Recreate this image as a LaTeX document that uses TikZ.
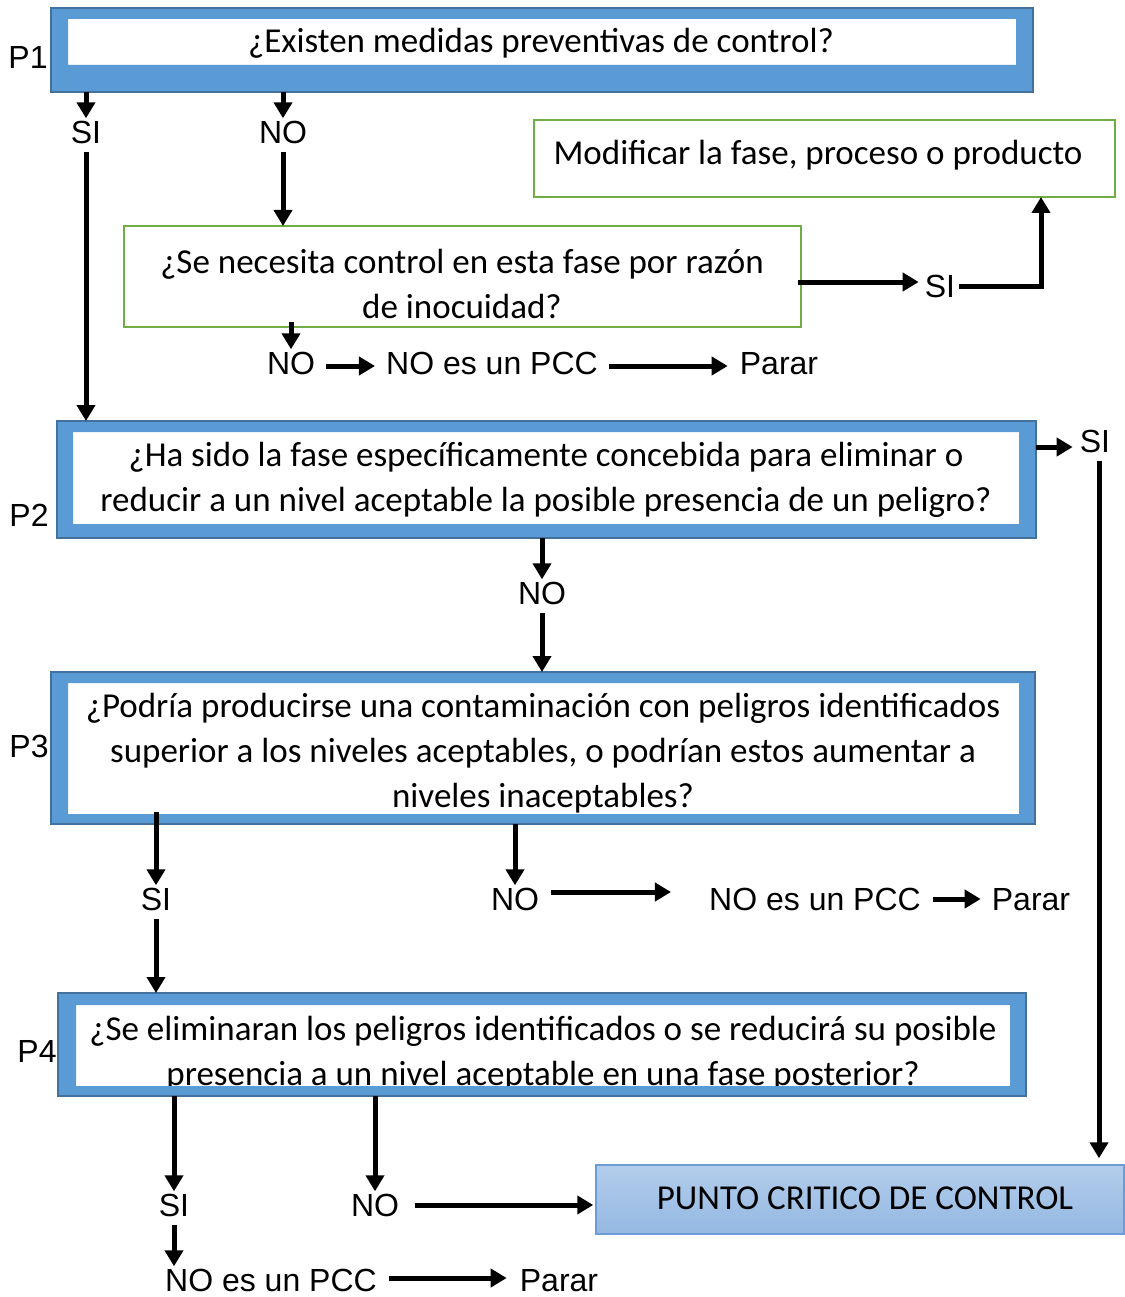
\documentclass[tikz,border=0pt]{standalone}
\usepackage{fontspec}
\setmainfont{Carlito}
\newfontfamily\arialfont{Liberation Sans}
\usetikzlibrary{arrows.meta}
\definecolor{qblue}{HTML}{5B9BD5}
\definecolor{qblueline}{HTML}{41719C}
\definecolor{qgreen}{HTML}{70AD47}
\definecolor{pcctop}{HTML}{B3CDEB}
\definecolor{pccbot}{HTML}{94B8E2}
\definecolor{pccline}{HTML}{6C9BD6}

\begin{document}
\begin{tikzpicture}[x=1pt,y=-1pt,
  arr/.style={line width=5pt,-{Triangle[length=16pt,width=18pt]}},
  lbl/.style={font=\arialfont\fontsize{32}{32}\selectfont, inner sep=2pt,
              text height=23pt, text depth=0pt},
  qtext/.style={font=\fontsize{35}{45}\selectfont, align=center, inner sep=0pt},
  qouter/.style={inner sep=0pt, outer sep=0pt},
  qframe/.style={fill=qblue, even odd rule},
  qborder/.style={draw=qblueline, line width=2pt},
  gbox/.style={draw=qgreen, line width=2.5pt, inner sep=0pt, outer sep=0pt},
]
\useasboundingbox (0,0) rectangle (1124,1297);

% ---------- P1 ----------
\node[qouter, minimum width=982pt, minimum height=84pt] (p1) at (542,50) {};
\fill[white] (68,19) rectangle (1016,65);
\node[qtext] (p1t) at (541,43) {¿Existen medidas preventivas de control?};
\fill[qframe] (p1.north west) rectangle (p1.south east) (68,19) rectangle (1016,65);
\draw[qborder] (p1.north west) rectangle (p1.south east);
\node[lbl] (p1l) at (28,57) {P1};

% ---------- green question and modification box ----------
\node[gbox, minimum width=677pt, minimum height=101pt] (g1) at (462.5,276.5) {};
\node[qtext] (g1t) at (462,284) {¿Se necesita control en esta fase por razón\\de inocuidad?};
\node[gbox, minimum width=581pt, minimum height=77pt] (mod) at (824.5,158.5) {};
\node[qtext] (modt) at (818,155) {Modificar la fase, proceso o producto};

% ---------- P2 ----------
\node[qouter, minimum width=979pt, minimum height=117pt] (p2) at (546.5,479.5) {};
\fill[white] (73,432) rectangle (1019,524);
\node[qtext] (p2t) at (546,480) {¿Ha sido la fase específicamente concebida para eliminar o\\reducir a un nivel aceptable la posible presencia de un peligro?};
\fill[qframe] (p2.north west) rectangle (p2.south east) (73,432) rectangle (1019,524);
\draw[qborder] (p2.north west) rectangle (p2.south east);
\node[lbl] (p2l) at (29,515) {P2};

% ---------- P3 ----------
\node[qouter, minimum width=984pt, minimum height=152pt] (p3) at (543,748) {};
\fill[white] (68,683) rectangle (1019,814);
\node[qtext] (p3t) at (543,753) {¿Podría producirse una contaminación con peligros identificados\\superior a los niveles aceptables, o podrían estos aumentar a\\niveles inaceptables?};
\fill[qframe] (p3.north west) rectangle (p3.south east) (68,683) rectangle (1019,814);
\draw[qborder] (p3.north west) rectangle (p3.south east);
\node[lbl] (p3l) at (29,746) {P3};

% ---------- P4 (second line runs into the frame) ----------
\node[qouter, minimum width=968pt, minimum height=103pt] (p4) at (542,1044.5) {};
\fill[white] (76,1005) rectangle (1010,1086);
\node[qtext] (p4t) at (543,1054) {¿Se eliminaran los peligros identificados o se reducirá su posible\\presencia a un nivel aceptable en una fase posterior?};
\fill[qframe] (p4.north west) rectangle (p4.south east) (76,1005) rectangle (1010,1086);
\draw[qborder] (p4.north west) rectangle (p4.south east);
\node[lbl] (p4l) at (37,1051) {P4};

% ---------- critical control point ----------
\node[draw=pccline, line width=1.5pt, top color=pcctop, bottom color=pccbot,
      minimum width=528pt, minimum height=69pt, inner sep=0pt] (pcc) at (860,1199.5) {};
\node[font=\fontsize{35}{35}\selectfont, inner sep=0pt] (pcct) at (865,1198) {PUNTO CRITICO DE CONTROL};

% ---------- answer labels ----------
\node[lbl] (si1) at (86,132) {SI};
\node[lbl] (no1) at (283,132) {NO};
\node[lbl] (si2) at (940,286) {SI};
\coordinate (modin) at (1041,197);
\node[lbl] (no2) at (291,363) {NO};
\node[lbl] (npcc1) at (492,363) {NO es un PCC};
\node[lbl] (stop1) at (779,363) {Parar};
\node[lbl] (si3) at (1095,441) {SI};
\node[lbl] (no3) at (542,593) {NO};
\node[lbl] (si4) at (156,899) {SI};
\node[lbl] (no4) at (515,899) {NO};
\node[lbl] (npcc2) at (815,899) {NO es un PCC};
\node[lbl] (stop2) at (1031,899) {Parar};
\node[lbl] (si5) at (174,1205) {SI};
\node[lbl] (no5) at (375,1205) {NO};
\node[lbl] (npcc3) at (271,1280) {NO es un PCC};
\node[lbl] (stop3) at (559,1280) {Parar};

% ---------- connectors ----------
\draw[arr] (p1.south -| si1) -- (si1.north);
\draw[arr] (p1.south -| no1) -- (no1.north);
\draw[arr, shorten <=6pt] (si1.south) -- (p2.north -| si1);
\draw[arr, shorten <=6pt] (no1.south) -- (g1.north -| no1);
\draw[arr, shorten <=-3pt, shorten >=4pt] ([yshift=4pt]si2.west -| g1.east) -- ([yshift=4pt]si2.west);
\draw[arr, shorten <=2pt] (si2.east) -| (modin);
\draw[arr] ([yshift=5pt]g1.south -| no2) -- (no2.north);
\draw[arr, shorten <=9pt, shorten >=9pt] ([yshift=-3pt]no2.east) -- ([yshift=-3pt]npcc1.west);
\draw[arr, shorten <=9pt, shorten >=10pt] ([yshift=-3pt]npcc1.east) -- ([yshift=-3pt]stop1.west);
\draw[arr, shorten >=5pt] ([yshift=-6pt]si3.west -| p2.east) -- ([yshift=-6pt]si3.west);
\draw[arr, shorten <=6pt, shorten >=6pt] ([xshift=4pt]si3.south) -- ([xshift=4pt]pcc.north -| si3);
\draw[arr] (p2.south -| no3) -- (no3.north);
\draw[arr, shorten <=6pt] (no3.south) -- (p3.north -| no3);
\draw[arr] ([yshift=12pt]p3.south -| si4) -- (si4.north);
\draw[arr, shorten <=6pt] (si4.south) -- (p4.north -| si4);
\draw[arr] (p3.south -| no4) -- (no4.north);
\draw[arr, shorten <=10pt, shorten >=36pt] ([yshift=7pt]no4.east) -- ([yshift=7pt]npcc2.west);
\draw[arr, shorten <=10pt, shorten >=9pt] (npcc2.east) -- (stop2.west);
\draw[arr] (p4.south -| si5) -- (si5.north);
\draw[arr, shorten <=6pt] (si5.south) -- (npcc3.north -| si5);
\draw[arr, shorten <=10pt, shorten >=11pt] ([yshift=2pt]npcc3.east) -- ([yshift=2pt]stop3.west);
\draw[arr] (p4.south -| no5) -- (no5.north);
\draw[arr, shorten <=14pt, shorten >=2pt] (no5.east) -- (pcc.west |- no5);

\end{tikzpicture}
\end{document}
